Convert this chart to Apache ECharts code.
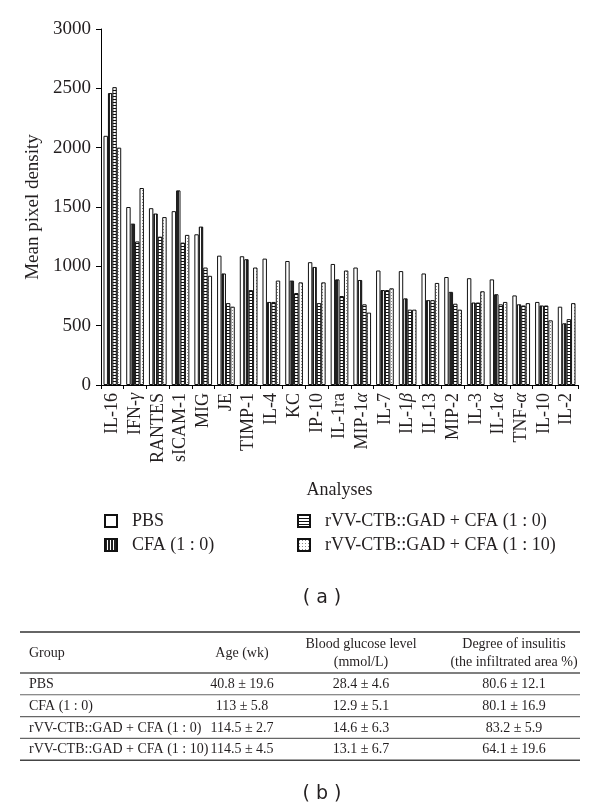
<!DOCTYPE html>
<html>
<head>
<meta charset="utf-8">
<script src="https://cdn.jsdelivr.net/npm/echarts@6/dist/echarts.min.js"></script>
<style>
  html, body { margin: 0; padding: 0; background: #fff; }
  #chart { width: 600px; height: 812px; }
</style>
</head>
<body>
<div id="chart"></div>
<script>
// ---------- data ----------
const categories = ['IL-16','IFN-γ','RANTES','sICAM-1','MIG','JE','TIMP-1','IL-4','KC','IP-10','IL-1ra','MIP-1α','IL-7','IL-1β','IL-13','MIP-2','IL-3','IL-1α','TNF-α','IL-10','IL-2'];
const seriesNames = ['PBS', 'CFA (1 : 0)', 'rVV-CTB::GAD + CFA (1 : 0)', 'rVV-CTB::GAD + CFA (1 : 10)'];
const pbsValues   = [2100,1500,1490,1465,1270,1090,1085,1065,1045,1035,1020,990,965,960,940,910,900,890,755,700,660];
const cfaValues   = [2460,1360,1445,1640,1335,940,1060,700,880,995,890,885,800,730,715,785,695,765,680,670,520];
const gad10Values = [2510,1210,1250,1200,990,690,800,700,775,690,750,680,800,635,715,685,695,680,670,670,555];
const gad110Values= [2000,1660,1415,1265,920,660,990,880,865,865,965,610,815,635,860,635,790,700,690,545,690];
const yTicks = [0, 500, 1000, 1500, 2000, 2500, 3000];

const tableHeader = [['Group'], ['Age (wk)'], ['Blood glucose level', '(mmol/L)'], ['Degree of insulitis', '(the infiltrated area %)']];
const tableGroups = ['PBS', 'CFA (1 : 0)', 'rVV-CTB::GAD + CFA (1 : 0)', 'rVV-CTB::GAD + CFA (1 : 10)'];
const ageValues = ['40.8 ± 19.6', '113 ± 5.8', '114.5 ± 2.7', '114.5 ± 4.5'];
const glucoseValues = ['28.4 ± 4.6', '12.9 ± 5.1', '14.6 ± 6.3', '13.1 ± 6.7'];
const insulitisValues = ['80.6 ± 12.1', '80.1 ± 16.9', '83.2 ± 5.9', '64.1 ± 19.6'];

// ---------- patterns ----------
function makePattern(kind) {
  const c = document.createElement('canvas');
  const ctx = c.getContext('2d');
  c.width = 3; c.height = 3;
  ctx.fillStyle = '#fff'; ctx.fillRect(0, 0, 3, 3);
  if (kind === 'v') {
    ctx.fillStyle = '#222'; ctx.fillRect(0, 0, 2, 3);
  } else if (kind === 'h') {
    ctx.fillStyle = '#111'; ctx.fillRect(0, 0, 3, 1);
  } else if (kind === 'd') {
    ctx.fillStyle = '#888'; ctx.fillRect(1, 1, 1, 1);
  }
  return { image: c, repeat: 'repeat' };
}
const fills = [makePattern('w'), makePattern('v'), makePattern('h'), makePattern('d')];
const seriesData = [pbsValues, cfaValues, gad10Values, gad110Values];

const SERIF = '"Liberation Serif", "DejaVu Serif", serif';
const TXT = '#231f20';

function greekRich(v) {
  return v.replace(/([γαβ])/g, '{g|$1}');
}

// ---------- table graphic ----------
const tbl = { x0: 20, x1: 580, top: 632, headBottom: 673, rowH: 21.8 };
const colX = [29, 242, 361, 514];
const graphics = [];
function hline(y, w, color) {
  graphics.push({ type: 'line', shape: { x1: tbl.x0, y1: y, x2: tbl.x1, y2: y }, style: { stroke: color, lineWidth: w } });
}
function text(t, x, y, align) {
  graphics.push({ type: 'text', style: { text: t, x: x, y: y, textAlign: align, textVerticalAlign: 'middle', font: '14px ' + SERIF, fill: TXT } });
}
hline(tbl.top, 1.6, '#333');
hline(tbl.headBottom, 1.3, '#555');
for (let i = 1; i < tableGroups.length; i++) hline(tbl.headBottom + i * tbl.rowH, 1.1, '#666');
hline(tbl.headBottom + tableGroups.length * tbl.rowH, 1.6, '#444');
tableHeader.forEach((lines, ci) => {
  const mid = (tbl.top + tbl.headBottom) / 2 + 0.5;
  lines.forEach((l, li) => {
    const y = lines.length === 1 ? mid : mid - 9 + li * 18;
    text(l, colX[ci], y, ci === 0 ? 'left' : 'center');
  });
});
tableGroups.forEach((g, ri) => {
  const y = tbl.headBottom + (ri + 0.5) * tbl.rowH + 0.5;
  text(g, colX[0], y, 'left');
  text(ageValues[ri], colX[1], y, 'center');
  text(glucoseValues[ri], colX[2], y, 'center');
  text(insulitisValues[ri], colX[3], y, 'center');
});
graphics.push({ type: 'text', style: { text: '( a )', x: 322, y: 598, textAlign: 'center', textVerticalAlign: 'middle', font: '19px "DejaVu Sans", sans-serif', fill: TXT } });
graphics.push({ type: 'text', style: { text: '( b )', x: 322, y: 794, textAlign: 'center', textVerticalAlign: 'middle', font: '19px "DejaVu Sans", sans-serif', fill: TXT } });

// ---------- chart ----------
const chart = echarts.init(document.getElementById('chart'), null, { renderer: 'canvas' });
const legendBase = {
  orient: 'vertical', top: 507, itemWidth: 12, itemHeight: 12, itemGap: 6,
  icon: 'rect',
  textStyle: { fontFamily: SERIF, fontSize: 18, color: TXT, padding: [0, 0, 0, 10] }
};
chart.setOption({
  animation: false,
  backgroundColor: '#fff',
  grid: { left: 101, right: 22, top: 29, bottom: 427, containLabel: false },
  legend: [
    Object.assign({}, legendBase, { left: 99, data: [seriesNames[0], seriesNames[1]] }),
    Object.assign({}, legendBase, { left: 292, data: [seriesNames[2], seriesNames[3]] })
  ],
  xAxis: {
    type: 'category',
    data: categories,
    name: 'Analyses',
    nameLocation: 'middle',
    nameGap: 96,
    nameTextStyle: { fontFamily: SERIF, fontSize: 18, color: TXT },
    axisLine: { lineStyle: { color: '#000', width: 1 } },
    axisTick: { show: true, length: 4, lineStyle: { color: '#000' } },
    axisLabel: {
      rotate: 90, margin: 8, interval: 0,
      fontFamily: SERIF, fontSize: 18, color: TXT,
      formatter: v => greekRich(v),
      rich: { g: { fontFamily: SERIF, fontSize: 18, fontStyle: 'italic', color: TXT } }
    }
  },
  yAxis: {
    type: 'value',
    min: yTicks[0], max: yTicks[yTicks.length - 1], interval: 500,
    name: 'Mean pixel density',
    nameLocation: 'middle',
    nameGap: 57,
    nameTextStyle: { fontFamily: SERIF, fontSize: 19, color: TXT },
    axisLine: { show: true, lineStyle: { color: '#000', width: 1 } },
    axisTick: { show: true, length: 5, lineStyle: { color: '#000' } },
    axisLabel: { margin: 10, fontFamily: SERIF, fontSize: 19, color: TXT, formatter: v => String(v) },
    splitLine: { show: false }
  },
  series: seriesNames.map((n, i) => ({
    name: n,
    type: 'bar',
    data: seriesData[i],
    barGap: '0%',
    barCategoryGap: '22%',
    itemStyle: { color: fills[i], borderColor: '#111', borderWidth: 1 },
    emphasis: { disabled: true }
  })),
  graphic: graphics
});
</script>
</body>
</html>
